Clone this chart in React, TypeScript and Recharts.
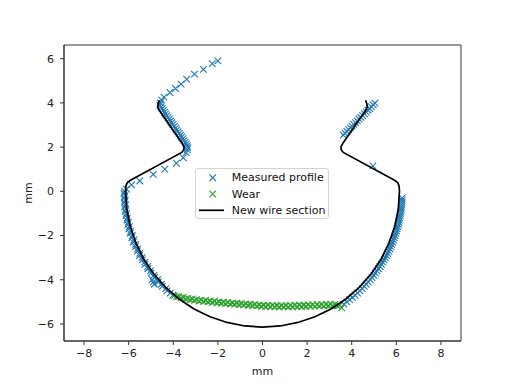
import { ReferenceArea, Scatter, ScatterChart, XAxis, YAxis } from "recharts";

type Pt = [number, number];

const X_DOMAIN = [-8.9, 8.9];
const Y_DOMAIN = [-6.77, 6.62];
const X_TICKS = [-8, -6, -4, -2, 0, 2, 4, 6, 8];
const Y_TICKS = [-6, -4, -2, 0, 2, 4, 6];

const BLUE = "#1f77b4";
const GREEN = "#2ca02c";
const FONT = "'DejaVu Sans', sans-serif";

// measured profile, left flank top -> down
const measuredLeftTop: Pt[] = [
  [-2.0, 5.9], [-2.25, 5.78], [-2.65, 5.52], [-3.05, 5.3], [-3.4, 5.07], [-3.65, 4.85],
  [-3.9, 4.65], [-4.15, 4.47], [-4.42, 4.26], [-4.52, 4.12], [-4.58, 4.0], [-4.6, 3.9],
  [-4.55, 3.82], [-4.5, 3.74], [-4.45, 3.66], [-4.4, 3.58], [-4.35, 3.5], [-4.29, 3.42],
  [-4.24, 3.34], [-4.18, 3.26], [-4.13, 3.18], [-4.07, 3.1], [-4.02, 3.02], [-3.96, 2.94],
  [-3.9, 2.86], [-3.85, 2.78], [-3.79, 2.7], [-3.74, 2.62], [-3.68, 2.54], [-3.63, 2.46],
  [-3.57, 2.38], [-3.52, 2.3], [-3.47, 2.22], [-3.42, 2.14], [-3.38, 2.06], [-3.35, 1.98],
  [-3.37, 1.88], [-3.42, 1.75], [-3.55, 1.52], [-3.86, 1.27], [-4.38, 1.0], [-4.9, 0.77],
  [-5.5, 0.47], [-5.87, 0.29], [-6.1, 0.1],
];

const measuredLeftArc: Pt[] = [
  [-6.18, 0.0], [-6.21, -0.1], [-6.17, -0.2], [-6.2, -0.3], [-6.16, -0.4], [-6.19, -0.5],
  [-6.15, -0.6], [-6.18, -0.7], [-6.13, -0.8], [-6.15, -0.9], [-6.1, -1.0], [-6.12, -1.1],
  [-6.06, -1.2], [-6.08, -1.3], [-6.02, -1.4], [-6.04, -1.5], [-5.97, -1.6], [-5.99, -1.7],
  [-5.91, -1.8], [-5.93, -1.9], [-5.84, -2.0], [-5.86, -2.1], [-5.77, -2.2], [-5.79, -2.3],
  [-5.69, -2.4], [-5.7, -2.5], [-5.6, -2.6], [-5.61, -2.7], [-5.5, -2.8], [-5.51, -2.9],
  [-5.4, -3.0], [-5.39, -3.1], [-5.28, -3.2], [-5.27, -3.3], [-5.15, -3.4], [-5.14, -3.5],
  [-5.02, -3.6], [-5.0, -3.7], [-4.87, -3.8], [-4.84, -3.9], [-4.7, -4.0], [-4.67, -4.1],
  [-4.53, -4.2], [-4.49, -4.3], [-4.34, -4.4], [-4.28, -4.5], [-4.13, -4.6], [-4.02, -4.7],
  [-4.95, -4.0], [-4.9, -4.1], [-4.85, -4.2],
];

const measuredRightArc: Pt[] = [
  [3.65, -5.1], [3.78, -5.0], [3.91, -4.9], [4.03, -4.8], [4.15, -4.7], [4.26, -4.6],
  [4.37, -4.5], [4.47, -4.4], [4.56, -4.3], [4.65, -4.2], [4.74, -4.1], [4.83, -4.0],
  [4.91, -3.9], [4.99, -3.8], [5.06, -3.7], [5.13, -3.6], [5.2, -3.5], [5.27, -3.4],
  [5.33, -3.3], [5.39, -3.2], [5.45, -3.1], [5.51, -3.0], [5.56, -2.9], [5.61, -2.8],
  [5.66, -2.7], [5.71, -2.6], [5.75, -2.5], [5.79, -2.4], [5.83, -2.3], [5.87, -2.2],
  [5.91, -2.1], [5.94, -2.0], [5.98, -1.9], [6.01, -1.8], [6.03, -1.7], [6.06, -1.6],
  [6.09, -1.5], [6.11, -1.4], [6.13, -1.3], [6.15, -1.2], [6.17, -1.1], [6.19, -1.0],
  [6.2, -0.9], [6.22, -0.8], [6.23, -0.7], [6.24, -0.6], [6.25, -0.5], [6.26, -0.4],
  [6.26, -0.3],
];

const measuredRightTop: Pt[] = [
  [4.95, 1.15],
  [3.62, 2.55], [3.7, 2.63], [3.78, 2.71], [3.86, 2.79], [3.94, 2.87], [4.01, 2.95],
  [4.09, 3.03], [4.17, 3.11], [4.25, 3.19], [4.33, 3.27], [4.41, 3.35], [4.49, 3.43],
  [4.57, 3.51], [4.65, 3.59], [4.73, 3.67], [4.8, 3.75], [4.88, 3.83], [4.96, 3.91],
  [5.04, 3.99],
];

const wear: Pt[] = [
  [-3.95, -4.72], [-3.85, -4.77], [-3.75, -4.76], [-3.65, -4.82], [-3.55, -4.8], [-3.45, -4.87],
  [-3.35, -4.84], [-3.25, -4.9], [-3.15, -4.87], [-3.05, -4.93], [-2.95, -4.9], [-2.85, -4.96],
  [-2.75, -4.92], [-2.65, -4.98], [-2.55, -4.94], [-2.45, -5.0], [-2.35, -4.96], [-2.25, -5.02],
  [-2.15, -4.98], [-2.05, -5.04], [-1.95, -5.0], [-1.85, -5.06], [-1.75, -5.02], [-1.65, -5.08],
  [-1.55, -5.03], [-1.45, -5.09], [-1.35, -5.05], [-1.25, -5.11], [-1.15, -5.06], [-1.05, -5.12],
  [-0.95, -5.08], [-0.85, -5.14], [-0.75, -5.09], [-0.65, -5.15], [-0.55, -5.11], [-0.45, -5.17],
  [-0.35, -5.12], [-0.25, -5.18], [-0.15, -5.14], [-0.05, -5.2], [0.05, -5.15], [0.15, -5.21],
  [0.25, -5.16], [0.35, -5.22], [0.45, -5.16], [0.55, -5.22], [0.65, -5.17], [0.75, -5.23],
  [0.85, -5.17], [0.95, -5.22], [1.05, -5.17], [1.15, -5.23], [1.25, -5.16], [1.35, -5.22],
  [1.45, -5.16], [1.55, -5.21], [1.65, -5.15], [1.75, -5.21], [1.85, -5.15], [1.95, -5.2],
  [2.05, -5.14], [2.15, -5.2], [2.25, -5.13], [2.35, -5.19], [2.45, -5.13], [2.55, -5.18],
  [2.65, -5.12], [2.75, -5.18], [2.85, -5.12], [2.95, -5.17], [3.05, -5.12], [3.15, -5.17],
  [3.25, -5.12], [3.35, -5.18], [3.45, -5.16], [3.55, -5.27],
];

// new wire section, drawn in order
const wireSection: Pt[] = [
  [-4.62, 4.12], [-4.68, 3.95], [-4.7, 3.82], [-4.65, 3.7], [-3.62, 2.2], [-3.52, 2.02],
  [-3.53, 1.88], [-3.62, 1.76], [-5.92, 0.5], [-6.06, 0.4], [-6.12, 0.25], [-6.14, 0.05],
  [-6.14, 0], [-6.09, -0.8], [-5.93, -1.59], [-5.67, -2.35], [-5.32, -3.07], [-4.87, -3.74],
  [-4.34, -4.34], [-3.74, -4.87], [-3.07, -5.32], [-2.35, -5.67], [-1.59, -5.93], [-0.8, -6.09],
  [0, -6.14], [0.8, -6.09], [1.59, -5.93], [2.35, -5.67], [3.07, -5.32], [3.74, -4.87],
  [4.34, -4.34], [4.87, -3.74], [5.32, -3.07], [5.67, -2.35], [5.93, -1.59], [6.09, -0.8],
  [6.14, 0], [6.14, 0.05], [6.12, 0.25], [6.06, 0.4], [5.92, 0.5], [3.62, 1.76],
  [3.53, 1.88], [3.52, 2.02], [3.62, 2.2], [4.65, 3.7], [4.7, 3.82], [4.68, 3.95],
  [4.62, 4.12],
];

const toObj = (pts: Pt[]) => pts.map(([x, y]) => ({ x, y }));
const measured = toObj([...measuredLeftTop, ...measuredLeftArc, ...measuredRightArc, ...measuredRightTop]);

const fmt = (v: number) => String(v).replace("-", "\u2212");

function XMark({ cx, cy, color }: { cx: number; cy: number; color: string }) {
  const r = 3.3;
  return (
    <path
      d={`M${cx - r},${cy - r}L${cx + r},${cy + r}M${cx - r},${cy + r}L${cx + r},${cy - r}`}
      stroke={color}
      strokeWidth={1.1}
      fill="none"
    />
  );
}

const tickStyle = { fontSize: 11, fill: "#222", fontFamily: FONT };

function LegendBox() {
  const rows = [
    { label: "Measured profile", kind: "x", color: BLUE },
    { label: "Wear", kind: "x", color: GREEN },
    { label: "New wire section", kind: "line", color: "#000" },
  ];
  return (
    <div
      style={{
        position: "absolute",
        left: 195,
        top: 168,
        width: 134,
        height: 51,
        boxSizing: "border-box",
        border: "1px solid #d3d3d3",
        borderRadius: 3,
        background: "rgba(255,255,255,0.85)",
        fontFamily: FONT,
        fontSize: 11,
        color: "#111",
      }}
    >
      <svg width={134} height={51} style={{ position: "absolute", left: 0, top: 0 }}>
        {rows.map((r, i) => {
          const cy = 8.7 + i * 16.3;
          return (
            <g key={r.label}>
              {r.kind === "x" ? (
                <XMark cx={16.7} cy={cy} color={r.color} />
              ) : (
                <line x1={3} x2={28} y1={cy} y2={cy} stroke="#000" strokeWidth={1.7} />
              )}
              <text x={35.7} y={cy} dominantBaseline="central" fontSize={11} fontFamily={FONT} fill="#111">
                {r.label}
              </text>
            </g>
          );
        })}
      </svg>
    </div>
  );
}

export default function App() {
  return (
    <div style={{ position: "absolute", left: 0, top: 0, width: 512, height: 384, background: "#fff" }}>
      <ScatterChart width={512} height={384} margin={{ top: 45, right: 51, bottom: 0, left: 0 }}>
        <XAxis
          type="number"
          dataKey="x"
          domain={X_DOMAIN}
          ticks={X_TICKS}
          tickFormatter={fmt}
          tick={tickStyle}
          tickSize={4}
          tickMargin={4}
          height={43}
          stroke="#333"
          allowDataOverflow
          label={{ value: "mm", position: "insideBottom", offset: 9, style: { fontSize: 11, fill: "#222", fontFamily: FONT } }}
        />
        <YAxis
          type="number"
          dataKey="y"
          domain={Y_DOMAIN}
          ticks={Y_TICKS}
          tickFormatter={fmt}
          tick={tickStyle}
          tickSize={4}
          tickMargin={6}
          width={64}
          stroke="#333"
          allowDataOverflow
          label={{
            value: "mm",
            angle: -90,
            position: "insideLeft",
            offset: 28,
            style: { fontSize: 11, fill: "#222", fontFamily: FONT, textAnchor: "middle" },
          }}
        />
        <ReferenceArea
          x1={X_DOMAIN[0]}
          x2={X_DOMAIN[1]}
          y1={Y_DOMAIN[0]}
          y2={Y_DOMAIN[1]}
          fill="none"
          stroke="#333"
          strokeWidth={1}
          ifOverflow="visible"
        />
        <Scatter
          data={measured}
          isAnimationActive={false}
          shape={(p: any) => <XMark cx={p.cx} cy={p.cy} color={BLUE} />}
        />
        <Scatter
          data={toObj(wear)}
          isAnimationActive={false}
          shape={(p: any) => <XMark cx={p.cx} cy={p.cy} color={GREEN} />}
        />
        <Scatter
          data={toObj(wireSection)}
          isAnimationActive={false}
          line={{ stroke: "#000", strokeWidth: 1.7 }}
          lineType="joint"
          shape={() => <g />}
        />
      </ScatterChart>
      <LegendBox />
    </div>
  );
}
